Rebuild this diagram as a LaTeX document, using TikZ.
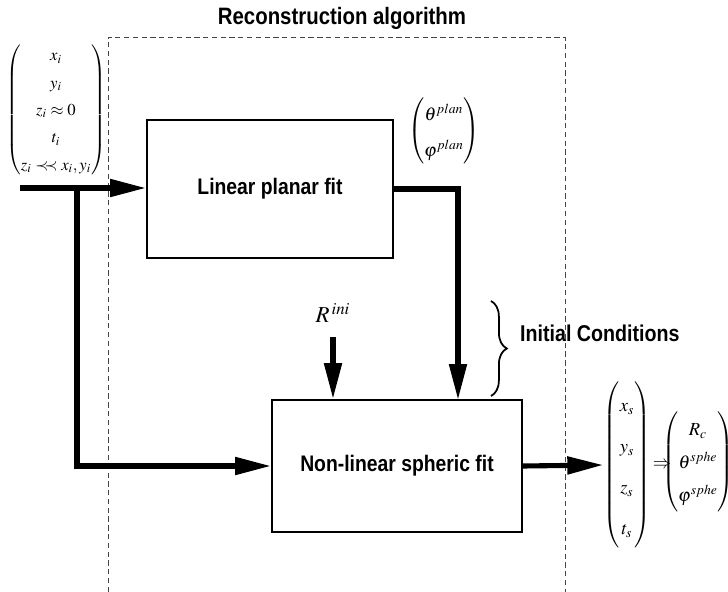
\documentclass[tikz,border=0pt]{standalone}
\usepackage{amsmath,amssymb}
\usepackage{mathptmx}
\usepackage{fontspec}
\usepackage{tikz}
\usetikzlibrary{arrows.meta}
\usetikzlibrary{decorations.pathreplacing}
\usetikzlibrary{positioning,calc}
\newfontfamily\arialbf[FakeStretch=0.86]{Liberation Sans Bold}
\definecolor{boxline}{RGB}{0,0,0}
\definecolor{dashgray}{RGB}{70,70,70}

\tikzset{
  fitbox/.style={draw=boxline,line width=1.1pt,font=\arialbf\fontsize{12.8}{14}\selectfont},
  flow/.style={line width=2.9pt,-{Triangle[length=0.72cm,width=0.34cm]}},
  vec/.style={inner sep=0pt,font=\fontsize{10.5}{12}\selectfont},
}

\begin{document}
\begin{tikzpicture}[x=0.02cm,y=-0.02cm]
    \useasboundingbox (0,0) rectangle (728,592);
    % algorithm frame
    \draw[dashgray,densely dashed,line width=0.5pt] (108,592) -- (108,37) -- (565,37) -- (565,592);
    \node[font=\arialbf\fontsize{13.5}{15}\selectfont] (title) at (342,18) {Reconstruction algorithm};
    % the two fits
    \node[fitbox,minimum width=4.92cm,minimum height=2.76cm] (planar) at (270,189) {Linear planar fit};
    \node[fitbox,minimum width=5cm,minimum height=2.64cm] (spheric) at (397,466) {Non-linear spheric fit};
    % vectors
    \node[vec,font=\fontsize{9.5}{11}\selectfont] (inp) at (56,110) {$\arraycolsep=0.5pt\renewcommand{\arraystretch}{1.42}\begin{pmatrix} x_i\\ y_i\\ z_i\approx 0\\ t_i\\ z_i\prec\!\!\prec x_i, y_i\end{pmatrix}$};
    \node[vec] (plan) at (444,131) {$\arraycolsep=2pt\renewcommand{\arraystretch}{1.7}\begin{pmatrix} \theta^{plan}\\ \varphi^{plan}\end{pmatrix}$};
    \node[vec,font=\fontsize{13}{14}\selectfont] (rini) at (333,313) {$R^{\,ini}$};
    \node[vec] (outs) at (627,465) {$\arraycolsep=3pt\renewcommand{\arraystretch}{1.95}\begin{pmatrix} x_s\\ y_s\\ z_s\\ t_s\end{pmatrix}$};
    \node[vec] (imp) at (662,465) {$\Rightarrow$};
    \node[vec] (sphe) at (698,462) {$\arraycolsep=0.5pt\renewcommand{\arraystretch}{1.55}\begin{pmatrix} R_c\\ \theta^{sphe}\\ \varphi^{sphe}\end{pmatrix}$};
    % connectors
    \coordinate (in) at (20,188);
    \coordinate (split) at (77,188);
    \coordinate (drop) at (458,400);
    \draw[flow] (in) -- (planar.west |- in);
    \draw[flow] ($(split)+(0,-2)$) |- (spheric.west);
    \draw[flow] (planar.east) -| (drop);
    \draw[flow] ($(rini.south)+(0,14)$) -- (rini.south |- spheric.north);
    \draw[flow] (spheric.east) -- (outs.west);
    % initial conditions brace
    \draw[line width=1pt,decorate,decoration={brace,amplitude=9pt}] (491,301) -- (491,396);
    \node[anchor=west,font=\arialbf\fontsize{13}{14}\selectfont] (ic) at (514,333) {Initial Conditions};
\end{tikzpicture}
\end{document}
